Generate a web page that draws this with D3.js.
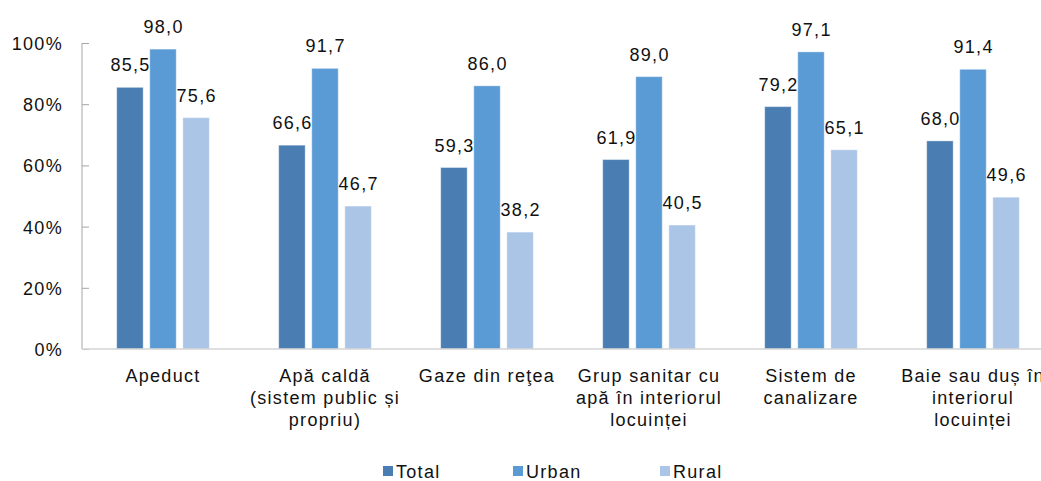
<!DOCTYPE html>
<html>
<head>
<meta charset="utf-8">
<script src="https://cdn.jsdelivr.net/npm/d3@7"></script>
<style>
	body { margin: 0; background: #fff; }
	svg text { font-family: "Liberation Sans", Arial, sans-serif; font-size: 18px; letter-spacing: 1.3px; fill: #111; }
</style>
</head>
<body>
<svg id="chart"></svg>
<script>
const categories = [
	['Apeduct'],
	['Apă caldă', '(sistem public și', 'propriu)'],
	['Gaze din reţea'],
	['Grup sanitar cu', 'apă în interiorul', 'locuinței'],
	['Sistem de', 'canalizare'],
	['Baie sau duș în', 'interiorul', 'locuinței']
];
const seriesNames = ['Total', 'Urban', 'Rural'];
const totalValues = [85.5, 66.6, 59.3, 61.9, 79.2, 68.0];
const urbanValues = [98.0, 91.7, 86.0, 89.0, 97.1, 91.4];
const ruralValues = [75.6, 46.7, 38.2, 40.5, 65.1, 49.6];
const yTicks = [0, 20, 40, 60, 80, 100];
const colors = ['#4a7db1', '#5b9bd5', '#abc5e6'];

const fullWidth = 1041, fullHeight = 481;
const margin = { top: 43, left: 82, bottom: 132 };
const plotHeight = fullHeight - margin.top - margin.bottom;
const bandWidth = 162;

const svg = d3.select('#chart').attr('width', fullWidth).attr('height', fullHeight);

const x = d3.scaleBand()
	.domain(d3.range(categories.length))
	.range([margin.left, margin.left + bandWidth * categories.length]);
const xInner = d3.scaleBand()
	.domain(seriesNames)
	.range([0, bandWidth])
	.paddingInner(0.2)
	.paddingOuter(1.05);
const y = d3.scaleLinear().domain([0, 100]).range([margin.top + plotHeight, margin.top]);

const allValues = [totalValues, urbanValues, ruralValues];
const rows = [];
categories.forEach((c, i) => {
	seriesNames.forEach((s, j) => rows.push({ cat: i, series: s, idx: j, value: allValues[j][i] }));
});

// bars
svg.append('g').selectAll('rect')
	.data(rows)
	.join('rect')
	.attr('x', d => x(d.cat) + xInner(d.series))
	.attr('y', d => y(d.value))
	.attr('width', xInner.bandwidth())
	.attr('height', d => y(0) - y(d.value))
	.attr('fill', d => colors[d.idx])
	.attr('stroke', 'rgba(255,255,255,0.35)')
	.attr('stroke-width', 1);

// value labels
const fmt = v => d3.format('.1f')(v).replace('.', ',');
svg.append('g').selectAll('text')
	.data(rows)
	.join('text')
	.attr('x', d => x(d.cat) + xInner(d.series) + xInner.bandwidth() / 2 + 0.6)
	.attr('y', d => y(d.value) - 16)
	.attr('text-anchor', 'middle')
	.text(d => fmt(d.value));

// y axis
const yAxis = d3.axisLeft(y).tickValues(yTicks).tickSize(-7).tickPadding(19).tickFormat(d => d + '%');
const yAxisG = svg.append('g').attr('transform', `translate(${margin.left},0)`).call(yAxis);
yAxisG.attr('font-family', null).attr('font-size', null);
yAxisG.select('.domain').attr('stroke', '#a6a6a6').attr('d', `M0,${y(100)}V${y(0)}`);
yAxisG.selectAll('.tick line').attr('stroke', '#a6a6a6').attr('x1', 0).attr('x2', 7);
yAxisG.selectAll('.tick text').attr('dy', '0.36em').attr('fill', '#111');

// x axis line
svg.append('line')
	.attr('x1', margin.left).attr('x2', fullWidth)
	.attr('y1', y(0)).attr('y2', y(0))
	.attr('stroke', '#d4d4d4').attr('stroke-width', 1.5);

// category labels
const catG = svg.append('g').selectAll('text')
	.data(categories)
	.join('text')
	.attr('text-anchor', 'middle')
	.attr('transform', (d, i) => `translate(${x(i) + bandWidth / 2},0)`);
catG.selectAll('tspan')
	.data(d => d)
	.join('tspan')
	.attr('x', 0)
	.attr('y', (d, i) => 382 + i * 22)
	.text(d => d);

// legend
const legendX = [383, 513, 660];
const legend = svg.append('g').selectAll('g')
	.data(seriesNames)
	.join('g')
	.attr('transform', (d, i) => `translate(${legendX[i]},466)`);
legend.append('rect').attr('width', 10).attr('height', 10).attr('fill', (d, i) => colors[i]);
legend.append('text').attr('x', 13).attr('y', 12).text(d => d);
</script>
</body>
</html>
